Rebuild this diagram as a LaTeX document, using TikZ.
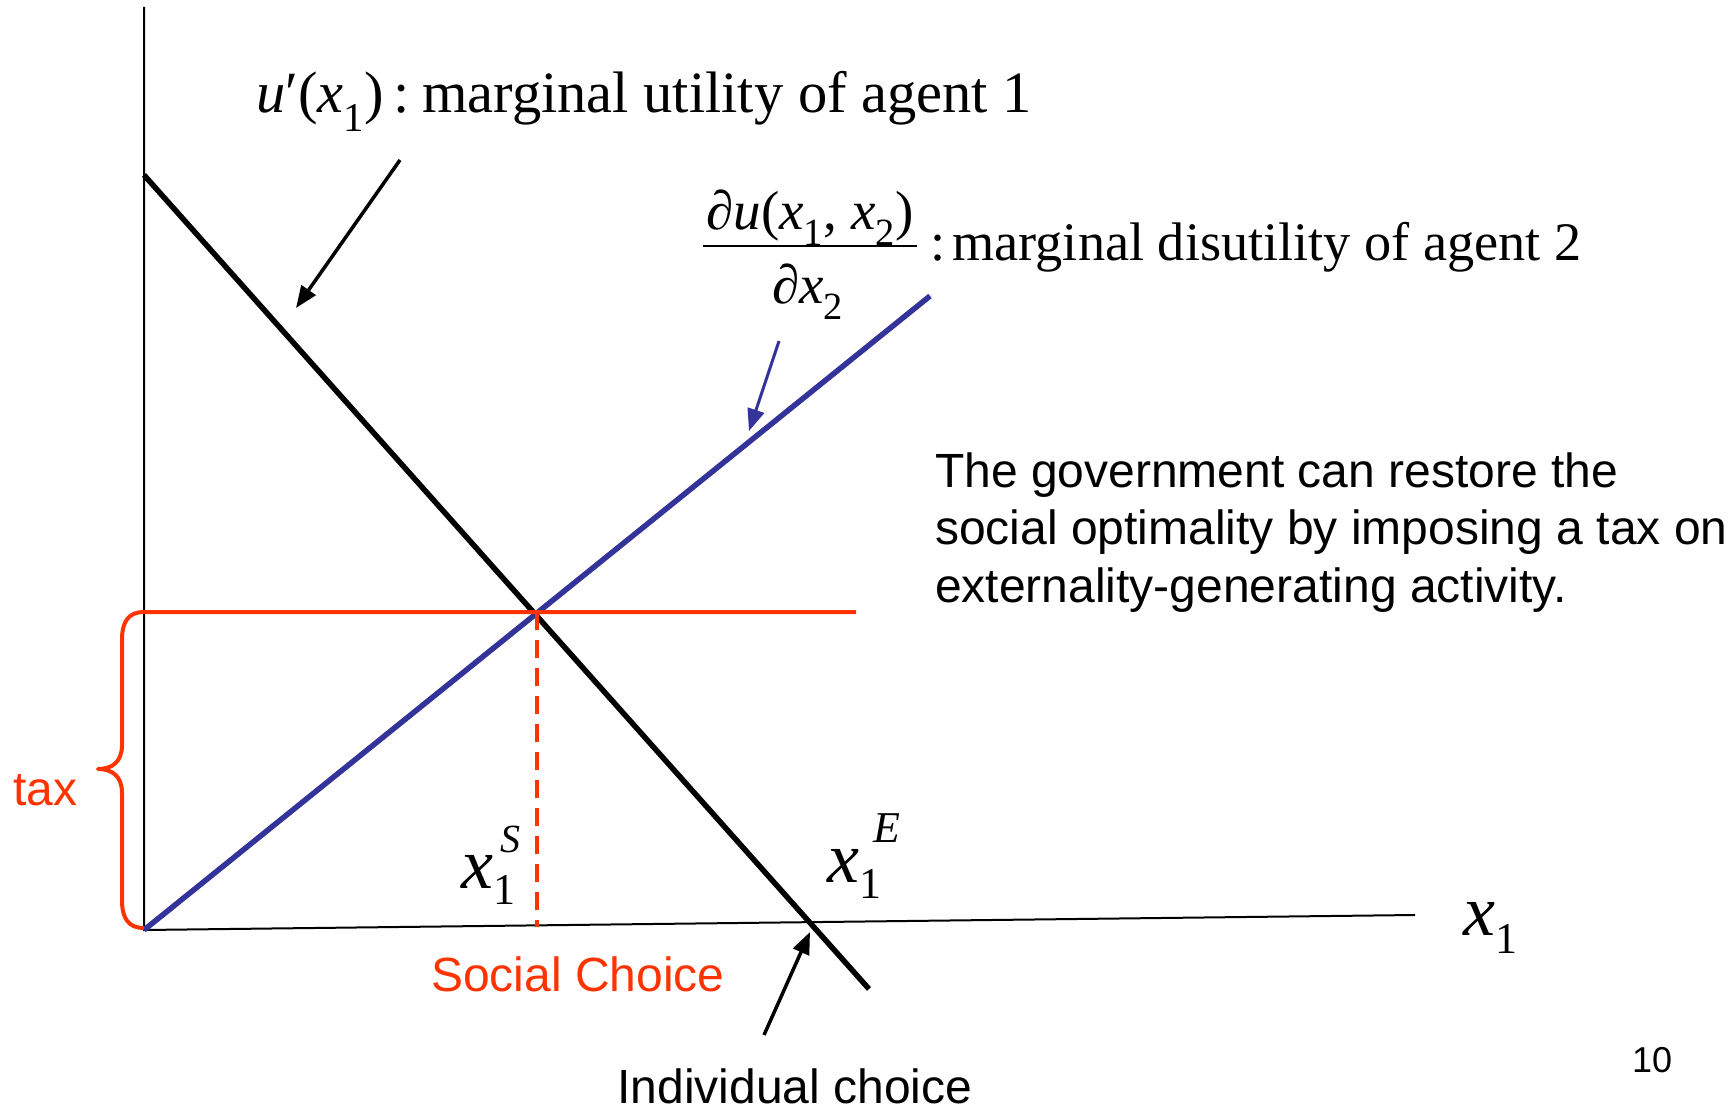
\documentclass[tikz,border=0pt]{standalone}
\usepackage{fontspec}
\setmainfont{Liberation Serif}
\newfontfamily\arialfont{Liberation Sans}
\usetikzlibrary{arrows.meta}
\definecolor{myblue}{RGB}{51,51,153}
\definecolor{myred}{RGB}{255,51,0}
\tikzset{
  axisline/.style={line width=2pt, black},
  curveblack/.style={line width=5.5pt, black},
  curveblue/.style={line width=5.5pt, myblue},
  redline/.style={line width=4pt, myred},
  reddash/.style={line width=3.5pt, myred, dash pattern=on 18pt off 10pt},
  pointer/.style={line width=3.5pt, -{Triangle[length=22pt,width=17pt]}},
  txt/.style={inner sep=0pt, anchor=base west},
  sans/.style={font=\arialfont\fontsize{48}{57.5}\selectfont},
}
\newcommand\xlab[4]{\textit{x}\kern0pt\raisebox{-16pt}{\fontsize{44}{44}\selectfont 1}\kern#3\raisebox{#1}{\fontsize{#4}{#4}\selectfont\textit{#2}}}
\begin{document}
\begin{tikzpicture}[x=1pt,y=-1pt]
\useasboundingbox (0,0) rectangle (1729,1113);
% key points
\coordinate (O) at (144,930);
\coordinate (Ytop) at (144,7);
\coordinate (Xend) at (1415,915);
\coordinate (Ba) at (144,175);
\coordinate (Bb) at (869,989);
\coordinate (Lb) at (930,296);
\coordinate (Eq) at (537,612);
\coordinate (Rend) at (856,612);
\coordinate (Dend) at (537,927);
\coordinate (Ie) at (810,932);
% axes
\draw[axisline] (Ytop) -- (O) -- (Xend);
% curves
\draw[curveblack] (Ba) -- (Bb);
\draw[curveblue] (O) -- (Lb);
% tax brace and red lines
\draw[redline, line join=round] (Rend) -- (144,612)
  .. controls (128,612) and (122,622) .. (122,640) -- (122,745)
  .. controls (122,762) and (112,769) .. (98,769)
  .. controls (112,769) and (122,776) .. (122,793) -- (122,900)
  .. controls (122,918) and (128,928) .. (144,928);
\draw[reddash] (Eq) -- (Dend);
% labels
\node[txt, font=\fontsize{58.5}{60}\selectfont] (lab1) at (256,113)
  {\textit{u}′(\textit{x}\textsubscript{1})\,:\hspace{12pt}marginal utility of agent 1};
\node[inner sep=0pt, anchor=base, font=\fontsize{55}{60}\selectfont] (num) at (810,229)
  {\textit{∂u}(\textit{x}\textsubscript{1}, \textit{x}\textsubscript{2})};
\node[inner sep=0pt, anchor=base, font=\fontsize{55}{60}\selectfont] (den) at (808,303)
  {\textit{∂x}\textsubscript{2}};
\coordinate (fbl) at (703,246);
\coordinate (fbr) at (917,246);
\draw[line width=2.5pt] (fbl) -- (fbr);
\node[txt, font=\fontsize{54.3}{60}\selectfont] (lab2) at (930,260)
  {:\hspace{7pt}marginal disutility of agent 2};
\node[txt, sans] (p1) at (935,487) {The government can restore the};
\node[txt, sans] (p2) at (935,544) {social optimality by imposing a tax on};
\node[txt, sans] (p3) at (935,602) {externality-generating activity.};
\node[txt, sans, text=myred] (tax) at (13,805) {tax};
\node[inner sep=0pt, anchor=base, sans, text=myred] (soc) at (578,991) {Social Choice};
\node[inner sep=0pt, anchor=base, sans] (ind) at (795,1103) {Individual choice};
\node[txt, font=\arialfont\fontsize{36}{40}\selectfont] (pg) at (1632,1072) {10};
\node[txt, font=\fontsize{72}{80}\selectfont] (xS) at (461,888) {\xlab{36pt}{S}{-15pt}{40}};
\node[txt, font=\fontsize{72}{80}\selectfont] (xE) at (827,882) {\xlab{40pt}{E}{-8pt}{44}};
\node[txt, font=\fontsize{72}{80}\selectfont] (xax) at (1463,935)
  {\textit{x}\raisebox{-18pt}{\fontsize{44}{44}\selectfont 1}};
% pointers
\coordinate (a1s) at (400,160);
\coordinate (a1e) at (296,308);
\coordinate (a2s) at (779,341);
\coordinate (a2e) at (749,431);
\coordinate (a3s) at (764,1035);
\draw[pointer] (a1s) -- (a1e);
\draw[pointer, myblue, line width=3pt] (a2s) -- (a2e);
\draw[pointer] (a3s) -- (Ie);
\end{tikzpicture}
\end{document}
